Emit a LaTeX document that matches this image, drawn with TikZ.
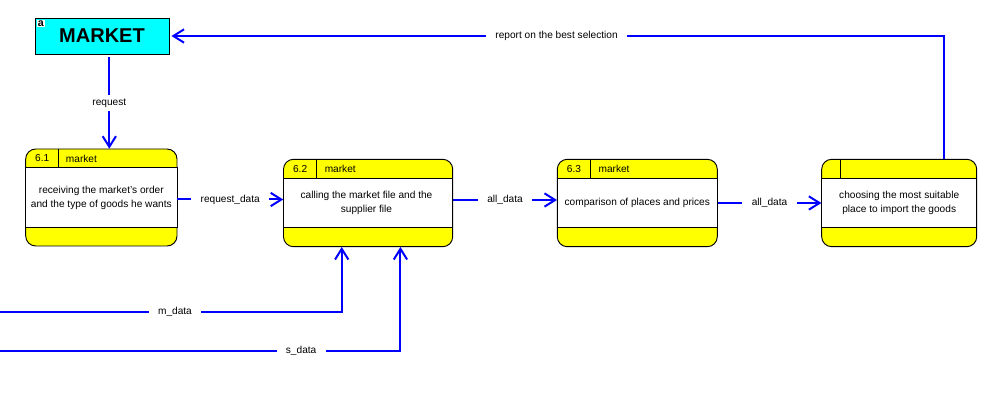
\documentclass[tikz,border=0pt]{standalone}
\usepackage{fontspec}
\setmainfont{Liberation Sans}
\usetikzlibrary{arrows.meta,fit,calc}

\definecolor{flowblue}{RGB}{0,0,255}
\definecolor{extcyan}{RGB}{0,255,255}
\definecolor{procyellow}{RGB}{255,255,0}

\tikzset{
    flow/.style={draw=flowblue, line width=1.5pt, -{Straight Barb[length=8pt,width=10pt]}},
    lbl/.style={fill=white, font=\fontsize{7.6}{9}\selectfont, inner xsep=7pt, inner ysep=3pt},
    procbox/.style={draw, line width=0.7pt, fill=procyellow, rounded corners=7.5pt},
    bodyband/.style={draw, line width=0.7pt, fill=white},
    hdr/.style={font=\fontsize{7.6}{9}\selectfont, inner sep=0pt},
    body/.style={font=\fontsize{7.6}{10.5}\selectfont, align=center, inner sep=0pt},
    extbox/.style={draw, line width=0.7pt, fill=extcyan, font=\fontsize{15}{18}\bfseries,
        minimum width=100.5pt, minimum height=27pt, inner sep=0pt}
}

\begin{document}
\begin{tikzpicture}[x=0.75pt, y=-0.75pt]
    \useasboundingbox (0,0) rectangle (1008,409);

    % External entity a
    \node[extbox] (market) at (102,36) {MARKET};
    \node[fill=white, font=\fontsize{8}{8}\bfseries, inner sep=0.5pt, anchor=north west]
        (mtag) at ($(market.north west)+(2.5,2.5)$) {a};

    % Process 6.1
    \begin{scope}[shift={(25.7,149)}]
        \draw[procbox] (0,0) rectangle (151.3,97);
        \draw[bodyband] (0,18.3) rectangle (151.3,78.7);
        \draw[line width=0.7pt] (33,0) -- (33,18.3);
        \node[hdr] (n61) at (16.5,9.5) {6.1};
        \node[hdr, anchor=west] (h61) at (40,9.5) {market};
        \node[body] (b61) at (75.6,48.5) {receiving the market's order\\and the type of goods he wants};
        \node[fit={(0,0) (151.3,97)}, inner sep=0pt] (p61) {};
    \end{scope}

    % Process 6.2
    \begin{scope}[shift={(283.5,159.3)}]
        \draw[procbox] (0,0) rectangle (169.2,87.4);
        \draw[bodyband] (0,19) rectangle (169.2,68);
        \draw[line width=0.7pt] (33.2,0) -- (33.2,19);
        \node[hdr] (n62) at (16.6,9.5) {6.2};
        \node[hdr, anchor=west] (h62) at (41,9.5) {market};
        \node[body] (b62) at (83,43.5) {calling the market file and the\\supplier file};
        \node[fit={(0,0) (169.2,87.4)}, inner sep=0pt] (p62) {};
    \end{scope}

    % Process 6.3
    \begin{scope}[shift={(557.3,159.3)}]
        \draw[procbox] (0,0) rectangle (160,87.4);
        \draw[bodyband] (0,19) rectangle (160,68);
        \draw[line width=0.7pt] (33.4,0) -- (33.4,19);
        \node[hdr] (n63) at (16.7,9.5) {6.3};
        \node[hdr, anchor=west] (h63) at (41,9.5) {market};
        \node[body] (b63) at (80,43.5) {comparison of places and prices};
        \node[fit={(0,0) (160,87.4)}, inner sep=0pt] (p63) {};
    \end{scope}

    % Process without number
    \begin{scope}[shift={(821.7,159.3)}]
        \draw[procbox] (0,0) rectangle (155,87.4);
        \draw[bodyband] (0,19) rectangle (155,68);
        \draw[line width=0.7pt] (18.6,0) -- (18.6,19);
        \node[body] (b64) at (77.5,43.5) {choosing the most suitable\\place to import the goods};
        \node[fit={(0,0) (155,87.4)}, inner sep=0pt] (p64) {};
    \end{scope}

    % Data flows
    \coordinate (reqtop) at ($(market.south)+(7.3,3)$);
    \draw[flow] (reqtop) -- node[lbl] {request} (reqtop |- p61.north);
    \draw[flow] ($(p61.east)+(0,2)$) -- node[lbl] {request\_data} ($(p61.east -| p62.west)+(0,2)$);
    \draw[flow] ($(p62.east)+(0,-3)$) -- node[lbl] {all\_data} ($(p62.east -| p63.west)+(0,-3)$);
    \draw[flow] (p63.east) -- node[lbl] {all\_data} (p63.east -| p64.west);

    \coordinate (repfoot) at ($(p64.north)+(44.5,0)$);
    \draw[flow, shorten >=1.5pt] (repfoot) |- node[lbl, pos=0.75] {report on the best selection} (market.east);

    \coordinate (msrc) at (0,311.7);
    \coordinate (ssrc) at (0,351);
    \draw[flow] (msrc) -| node[lbl, pos=0.256] {m\_data} ($(p62.south west)+(58.5,0)$);
    \draw[flow] (ssrc) -| node[lbl, pos=0.376] {s\_data} ($(p62.south west)+(117.2,0)$);

\end{tikzpicture}
\end{document}
